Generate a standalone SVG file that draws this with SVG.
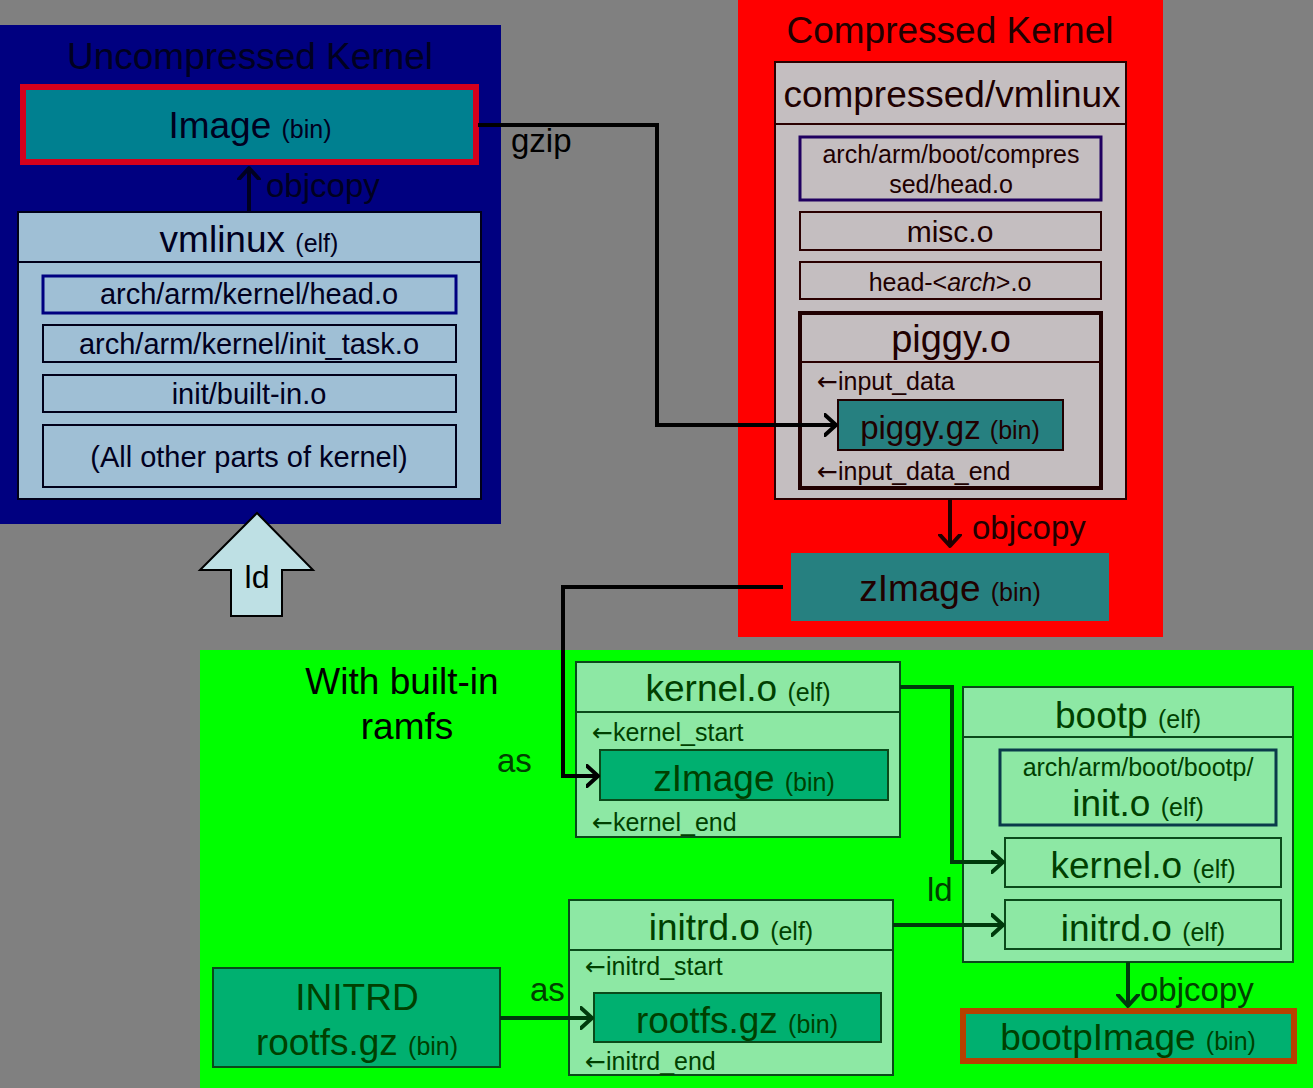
<svg xmlns="http://www.w3.org/2000/svg" width="1313" height="1088" viewBox="0 0 1313 1088">
<style>
text{font-family:"Liberation Sans",Arial,sans-serif;text-anchor:middle}
.big{font-size:37px}
.sm{font-size:25px}
.vt{font-size:29px}
.lbl{font-size:33px}
.lft{text-anchor:start}
.ar{font-family:"DejaVu Sans",sans-serif}
.blue text{fill:#000020}
.red text{fill:#200000}
.grn text{fill:#004000}
.vm{fill:#9FBFD5;stroke:#00001a;stroke-width:2}
.cv{fill:#C4BEC0;stroke:#2a0000;stroke-width:2}
.go{fill:#8DE8A4;stroke:#0a4a1a;stroke-width:2}
.gb{fill:#00B070;stroke:#0a4a1a;stroke-width:2}
.conn{fill:none;stroke-width:4}
</style>
<defs>
<marker id="ak" markerUnits="userSpaceOnUse" markerWidth="24" markerHeight="24" refX="12" refY="12" orient="auto" viewBox="0 0 24 24">
<path d="M1,2 L12,12 L1,22" fill="none" stroke="#000" stroke-width="4" stroke-linecap="round" stroke-linejoin="round"/>
</marker>
<marker id="an" markerUnits="userSpaceOnUse" markerWidth="24" markerHeight="24" refX="12" refY="12" orient="auto" viewBox="0 0 24 24">
<path d="M1,2 L12,12 L1,22" fill="none" stroke="#000020" stroke-width="4" stroke-linecap="round" stroke-linejoin="round"/>
</marker>
<marker id="ar" markerUnits="userSpaceOnUse" markerWidth="24" markerHeight="24" refX="12" refY="12" orient="auto" viewBox="0 0 24 24">
<path d="M1,2 L12,12 L1,22" fill="none" stroke="#200000" stroke-width="4" stroke-linecap="round" stroke-linejoin="round"/>
</marker>
<marker id="ag" markerUnits="userSpaceOnUse" markerWidth="24" markerHeight="24" refX="12" refY="12" orient="auto" viewBox="0 0 24 24">
<path d="M1,2 L12,12 L1,22" fill="none" stroke="#003a0c" stroke-width="4" stroke-linecap="round" stroke-linejoin="round"/>
</marker>
</defs>
<rect x="0" y="0" width="1313" height="1088" fill="#808080"/>

<!-- Regions -->
<g id="region-uncompressed" class="blue">
<rect x="0" y="25" width="501" height="499" fill="#000080"/>
<text class="big" x="250" y="69">Uncompressed Kernel</text>
</g>
<g id="region-compressed" class="red">
<rect x="738" y="0" width="425" height="637" fill="#FF0000"/>
<text class="big" x="950" y="43">Compressed Kernel</text>
</g>
<g id="region-ramfs">
<rect x="200" y="650" width="1113" height="438" fill="#00FF00"/>
<text class="big" x="402" y="694" fill="#000">With built-in</text>
<text class="big" x="407" y="739" fill="#000">ramfs</text>
</g>

<!-- Uncompressed kernel nodes -->
<g id="image" class="blue">
<rect x="23" y="87" width="453" height="75" fill="#008090" stroke="#D5001C" stroke-width="6"/>
<text x="250" y="138"><tspan class="big">Image </tspan><tspan class="sm">(bin)</tspan></text>
</g>
<g id="vmlinux" class="blue">
<rect class="vm" x="18" y="212" width="463" height="287"/>
<line x1="18" y1="262" x2="481" y2="262" stroke="#00001a" stroke-width="2"/>
<text x="249" y="252"><tspan class="big">vmlinux </tspan><tspan class="sm">(elf)</tspan></text>
<rect x="43" y="276" width="413" height="37" fill="none" stroke="#000080" stroke-width="3"/>
<text class="vt" x="249" y="304">arch/arm/kernel/head.o</text>
<rect class="vm" x="43" y="325" width="413" height="37" stroke-width="1.5"/>
<text class="vt" x="249" y="354">arch/arm/kernel/init_task.o</text>
<rect class="vm" x="43" y="375" width="413" height="37" stroke-width="1.5"/>
<text class="vt" x="249" y="404">init/built-in.o</text>
<rect class="vm" x="43" y="425" width="413" height="62" stroke-width="1.5"/>
<text class="vt" x="249" y="467">(All other parts of kernel)</text>
</g>
<g id="ld-arrow">
<polygon points="257,513 200,570 231,570 231,616 282,616 282,570 313,570" fill="#BEE0E4" stroke="#000" stroke-width="2"/>
<text x="257" y="588" font-size="32" fill="#000">ld</text>
</g>

<!-- Compressed kernel nodes -->
<g id="compressed-vmlinux" class="red">
<rect class="cv" x="775" y="62" width="351" height="437"/>
<line x1="775" y1="124" x2="1126" y2="124" stroke="#2a0000" stroke-width="2"/>
<text class="big" x="952" y="107">compressed/vmlinux</text>
<rect x="800" y="137" width="301" height="63" fill="none" stroke="#200060" stroke-width="3"/>
<text class="sm" x="951" y="163">arch/arm/boot/compres</text>
<text class="sm" x="951" y="193">sed/head.o</text>
<rect class="cv" x="800" y="212" width="301" height="38" stroke-width="1.5"/>
<text x="950" y="242" font-size="30">misc.o</text>
<rect class="cv" x="800" y="262" width="301" height="37" stroke-width="1.5"/>
<text class="sm" x="950" y="291">head-&lt;<tspan font-style="italic">arch</tspan>&gt;.o</text>
</g>
<g id="piggy-o" class="red">
<rect x="800" y="313" width="301" height="175" fill="#C4BEC0" stroke="#200000" stroke-width="4"/>
<line x1="800" y1="362" x2="1101" y2="362" stroke="#2a0000" stroke-width="2"/>
<text x="951" y="352" font-size="38">piggy.o</text>
<text class="sm lft" x="817" y="390"><tspan class="ar">←</tspan>input_data</text>
<text class="sm lft" x="817" y="480"><tspan class="ar">←</tspan>input_data_end</text>
</g>
<g id="piggy-gz" class="red">
<rect x="838" y="400" width="225" height="50" fill="#268080" stroke="#200000" stroke-width="2"/>
<text x="950" y="439"><tspan font-size="33">piggy.gz </tspan><tspan class="sm">(bin)</tspan></text>
</g>
<g id="zimage" class="red">
<rect x="791" y="553" width="318" height="68" fill="#268080"/>
<text x="950" y="601"><tspan class="big">zImage </tspan><tspan class="sm">(bin)</tspan></text>
</g>

<!-- Ramfs nodes -->
<g id="kernel-o" class="grn">
<rect class="go" x="576" y="662" width="324" height="175"/>
<line x1="576" y1="712" x2="900" y2="712" stroke="#0a4a1a" stroke-width="2"/>
<text x="738" y="701"><tspan class="big">kernel.o </tspan><tspan class="sm">(elf)</tspan></text>
<text class="sm lft" x="592" y="741"><tspan class="ar">←</tspan>kernel_start</text>
<text class="sm lft" x="592" y="831"><tspan class="ar">←</tspan>kernel_end</text>
</g>
<g id="kernel-zimage" class="grn">
<rect class="gb" x="600" y="750" width="288" height="50"/>
<text x="744" y="791"><tspan class="big">zImage </tspan><tspan class="sm">(bin)</tspan></text>
</g>
<g id="bootp" class="grn">
<rect class="go" x="963" y="687" width="330" height="275"/>
<line x1="963" y1="737" x2="1293" y2="737" stroke="#0a4a1a" stroke-width="2"/>
<text x="1128" y="728"><tspan class="big">bootp </tspan><tspan class="sm">(elf)</tspan></text>
</g>
<g id="bootp-init" class="grn">
<rect x="1000" y="750" width="276" height="75" fill="none" stroke="#0a3a4a" stroke-width="3"/>
<text class="sm" x="1138" y="776">arch/arm/boot/bootp/</text>
<text x="1138" y="816"><tspan class="big">init.o </tspan><tspan class="sm">(elf)</tspan></text>
</g>
<g id="bootp-kernel" class="grn">
<rect class="go" x="1005" y="838" width="276" height="49"/>
<text x="1143" y="878"><tspan class="big">kernel.o </tspan><tspan class="sm">(elf)</tspan></text>
</g>
<g id="bootp-initrd" class="grn">
<rect class="go" x="1005" y="900" width="276" height="49"/>
<text x="1143" y="941"><tspan class="big">initrd.o </tspan><tspan class="sm">(elf)</tspan></text>
</g>
<g id="initrd-o" class="grn">
<rect class="go" x="569" y="900" width="324" height="175"/>
<line x1="569" y1="950" x2="893" y2="950" stroke="#0a4a1a" stroke-width="2"/>
<text x="731" y="940"><tspan class="big">initrd.o </tspan><tspan class="sm">(elf)</tspan></text>
<text class="sm lft" x="585" y="975"><tspan class="ar">←</tspan>initrd_start</text>
<text class="sm lft" x="585" y="1070"><tspan class="ar">←</tspan>initrd_end</text>
</g>
<g id="rootfs-gz" class="grn">
<rect class="gb" x="594" y="993" width="287" height="49"/>
<text x="737" y="1033"><tspan class="big">rootfs.gz </tspan><tspan class="sm">(bin)</tspan></text>
</g>
<g id="initrd" class="grn">
<rect class="gb" x="213" y="968" width="287" height="99"/>
<text class="big" x="357" y="1010">INITRD</text>
<text x="357" y="1055"><tspan class="big">rootfs.gz </tspan><tspan class="sm">(bin)</tspan></text>
</g>
<g id="bootpimage" class="grn">
<rect x="963" y="1011" width="331" height="50" fill="#00B070" stroke="#B84000" stroke-width="6"/>
<text x="1128" y="1050"><tspan class="big">bootpImage </tspan><tspan class="sm">(bin)</tspan></text>
</g>

<!-- Connectors -->
<g id="connectors">
<path class="conn" d="M249,212 V168" stroke="#000020" marker-end="url(#an)"/>
<text class="lbl lft" x="266" y="197" fill="#000020">objcopy</text>
<path class="conn" d="M478,125 H657 V425 H836" stroke="#000" marker-end="url(#ak)"/>
<text class="lbl lft" x="511" y="152" fill="#000">gzip</text>
<path class="conn" d="M950,499 V546" stroke="#200000" marker-end="url(#ar)"/>
<text class="lbl lft" x="972" y="539" fill="#200000">objcopy</text>
<path class="conn" d="M783,587 H563 V776 H598" stroke="#000" marker-end="url(#ak)"/>
<text class="lbl lft" x="497" y="772" fill="#004000">as</text>
<path class="conn" d="M900,687 H952 V862 H1003" stroke="#003a0c" marker-end="url(#ag)"/>
<text class="lbl lft" x="927" y="901" fill="#004000">ld</text>
<path class="conn" d="M893,925 H1003" stroke="#003a0c" marker-end="url(#ag)"/>
<path class="conn" d="M500,1018 H592" stroke="#003a0c" marker-end="url(#ag)"/>
<text class="lbl lft" x="530" y="1001" fill="#004000">as</text>
<path class="conn" d="M1128,962 V1006" stroke="#003a0c" marker-end="url(#ag)"/>
<text class="lbl lft" x="1140" y="1001" fill="#004000">objcopy</text>
</g>
</svg>
